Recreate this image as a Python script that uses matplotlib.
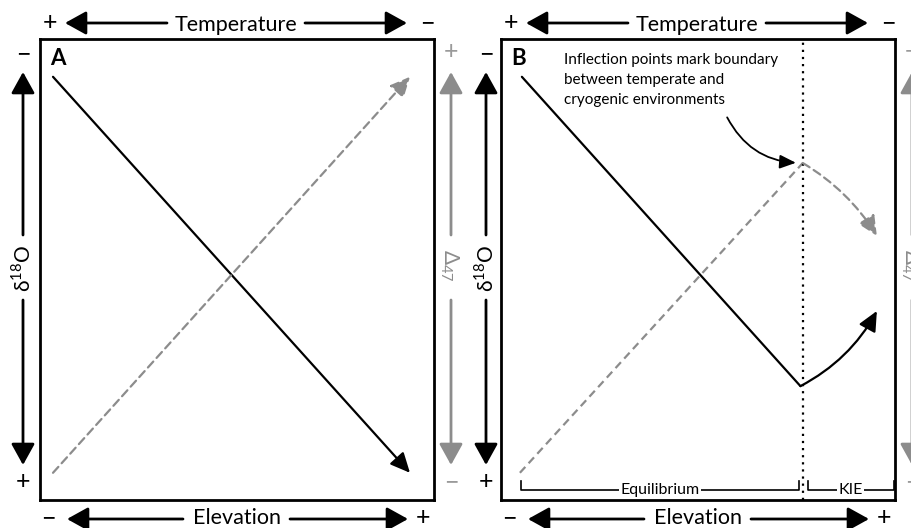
import matplotlib
matplotlib.use('Agg')
import matplotlib.pyplot as plt

plt.rcParams['font.family'] = ['Lato', 'DejaVu Sans']
plt.rcParams['mathtext.fontset'] = 'custom'
plt.rcParams['mathtext.rm'] = 'Lato'

GRAY = '#8c8c8c'

# Panel A: steady trends across the whole elevation range
elev_a = [3.3, 93.9]
d18o_a = [91.8, 5.9]
d47_a = [5.9, 91.8]

# Panel B: trends break at the temperate / cryogenic boundary
boundary = 76.6
elev_b = [5.3, 76.0]
d18o_b = [91.8, 24.7]
elev_b_d47 = [4.8, 76.6]
d47_b = [5.9, 73.1]
kie_elev = 95.4
kie_d18o = 41.0
kie_d47 = 57.3

equilibrium_span = [5.1, 75.6]
kie_span = [77.9, 99.7]

W, H = 912, 528
fig = plt.figure(figsize=(W / 100, H / 100), dpi=100)


def px_axes(x0, y0, x1, y1):
    ax = fig.add_axes([x0 / W, 1 - y1 / H, (x1 - x0) / W, (y1 - y0) / H])
    ax.set_xlim(0, 100)
    ax.set_ylim(0, 100)
    ax.set_xticks([])
    ax.set_yticks([])
    for sp in ax.spines.values():
        sp.set_linewidth(2)
    return ax


ax_a = px_axes(40, 39, 434, 500)
ax_b = px_axes(501, 39, 895, 500)

# overlay in pixel units for the axis arrows around each panel
over = fig.add_axes([0, 0, 1, 1], zorder=5)
over.set_xlim(0, W)
over.set_ylim(H, 0)
over.axis('off')


def big_arrow(x0, y0, x1, y1, color='black'):
    over.annotate('', xy=(x1, y1), xytext=(x0, y0),
                  arrowprops=dict(arrowstyle='-|>,head_length=0.65,head_width=0.36',
                                  color=color, lw=2, shrinkA=0, shrinkB=0,
                                  mutation_scale=20))


def sign(x, y, s, color='black'):
    over.text(x, y + 7, s, ha='center', va='baseline', fontsize=18, color=color)


def frame(ox, ly, ry):
    # Temperature along the top
    big_arrow(ox + 167, 23, ox + 65, 23)
    big_arrow(ox + 305, 23, ox + 407, 23)
    over.text(ox + 236, 31, 'Temperature', ha='center', va='baseline', fontsize=15.5)
    sign(ox + 50, 23, '+')
    sign(ox + 427, 23, '−')
    # Elevation along the bottom
    big_arrow(ox + 183, 519, ox + 67, 519)
    big_arrow(ox + 290, 519, ox + 408, 519)
    over.text(ox + 237, 524, 'Elevation', ha='center', va='baseline', fontsize=15.5)
    sign(ox + 48, 518, '−')
    sign(ox + 423, 518, '+')
    # d18O on the left
    big_arrow(ly, 235, ly, 72)
    big_arrow(ly, 300, ly, 465)
    over.text(ly, 268, r'δ$^{18}$O', rotation=90, ha='center', va='center', fontsize=15)
    sign(ly, 54, '−')
    sign(ly, 482, '+')
    # D47 on the right, in gray
    big_arrow(ry, 235, ry, 72, GRAY)
    big_arrow(ry, 300, ry, 465, GRAY)
    over.text(ry - 2, 265, r'Δ$_{47}$', rotation=-90, ha='center', va='center',
              fontsize=15, color=GRAY)
    sign(ry, 52, '+', '#9a9a9a')
    sign(ry, 482, '−', '#9a9a9a')


frame(0, 23, 451)
frame(461, 486, 912)

line_kw = dict(color='black', lw=1.6, shrinkA=0, shrinkB=0)
dash_kw = dict(color=GRAY, lw=1.6, shrinkA=0, shrinkB=0, linestyle=(0, (3.6, 2.2)))
head = '-|>,head_length=0.75,head_width=0.35'

# Panel A
ax_a.annotate('', xy=(elev_a[1], d18o_a[1]), xytext=(elev_a[0], d18o_a[0]),
              arrowprops=dict(arrowstyle=head, mutation_scale=16, **line_kw))
ax_a.annotate('', xy=(elev_a[1], d47_a[1]), xytext=(elev_a[0], d47_a[0]),
              arrowprops=dict(arrowstyle=head, mutation_scale=16, **dash_kw))
ax_a.text(0.025, 0.944, 'A', transform=ax_a.transAxes, fontsize=16,
          fontweight='bold', ha='left', va='baseline')

# Panel B
ax_b.plot(elev_b, d18o_b, color='black', lw=1.6, solid_capstyle='round')
ax_b.annotate('', xy=(kie_elev, kie_d18o), xytext=(elev_b[-1], d18o_b[-1]),
              arrowprops=dict(arrowstyle=head, mutation_scale=16,
                              connectionstyle='arc3,rad=0.15', **line_kw))
ax_b.plot(elev_b_d47, d47_b, color=GRAY, lw=1.6, dashes=(3.6, 2.2))
ax_b.annotate('', xy=(kie_elev, kie_d47), xytext=(elev_b_d47[-1], d47_b[-1]),
              arrowprops=dict(arrowstyle=head, mutation_scale=16,
                              connectionstyle='arc3,rad=-0.12', **dash_kw))
ax_b.axvline(boundary, color='black', lw=1.6, linestyle=(0, (1, 2.2)))

ax_b.text(0.025, 0.944, 'B', transform=ax_b.transAxes, fontsize=16,
          fontweight='bold', ha='left', va='baseline')
ax_b.text(16, 97.0, 'Inflection points mark boundary\nbetween temperate and\ncryogenic environments',
          ha='left', va='top', fontsize=11, linespacing=1.55)
ax_b.annotate('', xy=(elev_b_d47[-1], d47_b[-1]), xytext=(57.4, 83.0),
              arrowprops=dict(arrowstyle='-|>,head_length=0.7,head_width=0.3',
                              mutation_scale=14, color='black', lw=1.3,
                              shrinkA=0, shrinkB=5,
                              connectionstyle='arc3,rad=0.3'))

# regime brackets along the bottom
for span, label in [(equilibrium_span, 'Equilibrium'), (kie_span, 'KIE')]:
    ax_b.plot([span[0], span[0], span[1], span[1]], [4.1, 2.2, 2.2, 4.1],
              color='black', lw=1.2)
    ax_b.text(sum(span) / 2, 2.2, label, ha='center', va='center', fontsize=11.5,
              bbox=dict(facecolor='white', edgecolor='none', pad=1.0))

fig.savefig('out.png', dpi=100)
